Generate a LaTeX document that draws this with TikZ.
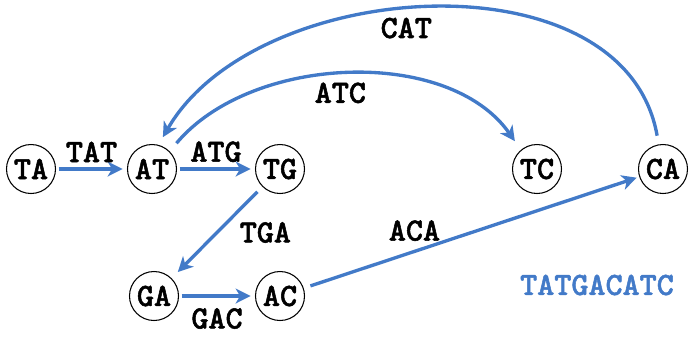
\documentclass[tikz,border=0pt]{standalone}
\usepackage{fontspec}
\newfontfamily\dnafont{lmmonolt10-bold.otf}[FakeBold=1.6]
\usetikzlibrary{arrows.meta}
\definecolor{dnablue}{RGB}{66,122,200}

\begin{document}
\begin{tikzpicture}[auto,
    font=\dnafont\fontsize{18.5}{20}\selectfont,
    kmer/.style={circle, draw, line width=0.6pt, minimum size=0.98cm, inner sep=0pt},
    edge/.style={-{Stealth[length=8.5pt, width=8.5pt, inset=2.5pt]}, dnablue, line width=1.9pt,
                 shorten <=1.5pt, shorten >=2.5pt},
    lbl/.style={text=black, inner sep=3pt}]

    \useasboundingbox (0,0) rectangle (14,6.74);

    \node[kmer] (ta) at (0.62, 3.36) {TA};
    \node[kmer] (at) at (3.04, 3.36) {AT};
    \node[kmer] (tg) at (5.6, 3.36) {TG};
    \node[kmer] (tc) at (10.74, 3.36) {TC};
    \node[kmer] (ca) at (13.26, 3.36) {CA};
    \node[kmer] (ga) at (3.08, 0.82) {GA};
    \node[kmer] (ac) at (5.6, 0.82) {AC};
    \node[text=dnablue] (seq) at (11.94, 1.04) {TATGACATC};

    \draw [edge] (ta) to node[lbl] {TAT} (at);
    \draw [edge] (at) to node[lbl] {ATG} (tg);
    \draw [edge, shorten <=4pt, shorten >=5pt] (tg) to node[lbl, right=9pt] {TGA} (ga);
    \draw [edge] (ga) to node[lbl, below=3pt] {GAC} (ac);
    \draw [edge, shorten <=4pt, shorten >=1.5pt] (ac) to node[lbl, pos=0.33, above=2pt] {ACA} (ca);
    \draw [edge, shorten <=5pt, shorten >=5pt] (ca.100) to[out=100, in=60] node[lbl, pos=0.54, below] {CAT} (at.75);
    \draw [edge, shorten <=6pt, shorten >=6pt] (at.45) to[out=50, in=125, looseness=0.92] node[lbl, pos=0.48, below] {ATC} (tc.130);

  \end{tikzpicture}
\end{document}
